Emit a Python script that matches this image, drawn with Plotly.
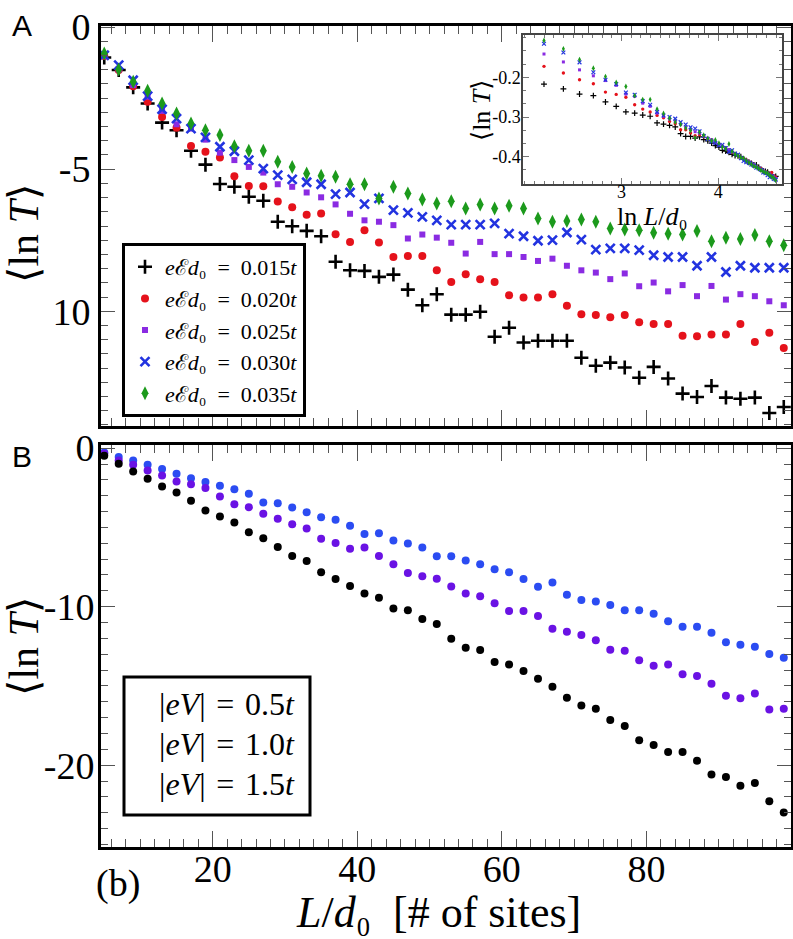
import math
import plotly.graph_objects as go

# ---------------- data ----------------
L_sites = list(range(5, 100, 2))  # 48 points

top_labels = ["0.015", "0.020", "0.025", "0.030", "0.035"]
top_black = [-1.07, -1.51, -2.12, -2.69, -3.36, -3.63, -4.35, -4.84, -5.52, -5.62, -5.97, -6.11,
             -6.85, -7.01, -7.17, -7.36, -8.26, -8.56, -8.58, -8.79, -8.71, -9.24, -9.79, -9.40,
             -10.12, -10.12, -10.02, -10.90, -10.58, -11.10, -11.04, -11.04, -11.04, -11.64, -11.92, -11.81,
             -11.98, -12.34, -11.96, -12.37, -12.90, -13.02, -12.63, -13.04, -13.08, -13.04, -13.58, -13.37]
top_red = [-1.02, -1.51, -2.08, -2.63, -3.16, -3.54, -4.18, -4.39, -4.59, -5.25, -5.59, -5.60,
           -6.14, -6.34, -6.60, -6.56, -7.29, -7.56, -7.15, -7.58, -8.09, -8.06, -8.06, -8.56,
           -8.97, -8.70, -8.87, -8.97, -9.44, -9.52, -9.52, -9.40, -9.81, -10.11, -10.13, -10.21,
           -10.13, -10.39, -10.45, -10.45, -10.86, -10.88, -10.82, -10.82, -10.45, -11.08, -10.76, -11.29]
top_purple = [-1.02, -1.49, -2.04, -2.45, -2.95, -3.42, -3.57, -3.96, -4.42, -4.68, -4.92, -5.12,
              -5.53, -5.62, -5.82, -5.99, -6.24, -6.57, -6.80, -6.85, -6.97, -7.44, -7.30, -7.41,
              -7.59, -7.97, -7.56, -7.99, -7.99, -8.09, -8.23, -8.15, -8.40, -8.56, -8.64, -8.87,
              -8.67, -9.12, -8.99, -9.30, -9.08, -9.47, -9.11, -9.59, -9.40, -9.47, -9.65, -9.79]
top_blue = [-0.99, -1.34, -1.87, -2.43, -2.89, -3.22, -3.57, -3.88, -4.21, -4.37, -4.68, -4.98,
            -5.21, -5.36, -5.46, -5.53, -5.88, -5.82, -6.23, -6.03, -6.44, -6.54, -6.68, -6.80,
            -6.95, -6.95, -6.95, -6.91, -7.27, -7.36, -7.52, -7.50, -7.23, -7.48, -7.83, -7.79,
            -7.79, -7.85, -8.03, -8.09, -8.09, -8.40, -8.09, -8.62, -8.40, -8.47, -8.47, -8.47]
top_green = [-0.93, -1.49, -1.92, -2.24, -2.69, -3.04, -3.39, -3.63, -3.80, -4.19, -4.35, -4.35,
             -4.74, -4.92, -5.15, -5.23, -5.27, -5.53, -5.53, -6.03, -5.62, -5.86, -6.07, -6.21,
             -6.13, -6.38, -6.24, -6.38, -6.29, -6.38, -6.74, -6.85, -6.82, -6.77, -6.85, -7.09,
             -7.12, -7.15, -7.24, -7.27, -7.30, -7.18, -7.54, -7.41, -7.46, -7.32, -7.54, -7.68]

# inset: ln(L/d0) for L = 9..99
inset_L = list(range(9, 100, 2))
inset_black = [-0.217, -0.229, -0.242, -0.246, -0.262, -0.273, -0.287, -0.290, -0.295, -0.298,
               -0.315, -0.318, -0.321, -0.325, -0.342, -0.349, -0.349, -0.353,
               -0.350, -0.357, -0.360, -0.366, -0.372, -0.376, -0.384, -0.386, -0.389, -0.394,
               -0.397, -0.398, -0.400, -0.406, -0.410, -0.414, -0.417, -0.421, -0.421, -0.428,
               -0.432, -0.436, -0.437, -0.439, -0.446, -0.448, -0.452, -0.450]
inset_red = [-0.172, -0.189, -0.206, -0.216, -0.237, -0.243, -0.250, -0.269, -0.280, -0.287,
             -0.296, -0.302, -0.311, -0.317, -0.332, -0.332, -0.340, -0.347,
             -0.345, -0.350, -0.356, -0.358, -0.364, -0.368, -0.373, -0.380, -0.386, -0.390,
             -0.392, -0.398, -0.403, -0.404, -0.408, -0.412, -0.418, -0.422, -0.426, -0.427,
             -0.430, -0.436, -0.438, -0.441, -0.445, -0.440, -0.448, -0.452]
inset_purple = [-0.141, -0.161, -0.181, -0.196, -0.208, -0.220, -0.242, -0.248, -0.265, -0.273,
                -0.290, -0.298, -0.305, -0.311, -0.319, -0.325, -0.332, -0.337,
                -0.341, -0.347, -0.353, -0.357, -0.363, -0.370, -0.374, -0.377, -0.382, -0.388,
                -0.392, -0.396, -0.401, -0.406, -0.409, -0.413, -0.416, -0.420, -0.425, -0.429,
                -0.432, -0.434, -0.439, -0.442, -0.444, -0.449, -0.451, -0.455]
inset_blue = [-0.115, -0.137, -0.162, -0.187, -0.206, -0.217, -0.238, -0.244, -0.260, -0.269,
              -0.287, -0.296, -0.300, -0.304, -0.313, -0.319, -0.326, -0.329,
              -0.336, -0.348, -0.356, -0.362, -0.366, -0.372, -0.370, -0.378, -0.388, -0.384,
              -0.392, -0.395, -0.404, -0.411, -0.414, -0.416, -0.420, -0.423, -0.428, -0.430,
              -0.433, -0.440, -0.442, -0.447, -0.452, -0.449, -0.456, -0.458]
inset_green = [-0.107, -0.128, -0.155, -0.177, -0.198, -0.213, -0.223, -0.246, -0.256, -0.256,
               -0.280, -0.291, -0.303, -0.313, -0.319, -0.328, -0.334, -0.352,
               -0.338, -0.346, -0.354, -0.360, -0.358, -0.366, -0.376, -0.380, -0.368, -0.387,
               -0.394, -0.398, -0.402, -0.404, -0.410, -0.415, -0.419, -0.424, -0.426, -0.430,
               -0.434, -0.437, -0.440, -0.442, -0.447, -0.451, -0.454, -0.460]

bottom_labels = ["0.5", "1.0", "1.5"]
bot_black = [-0.48, -0.99, -1.47, -1.93, -2.42, -2.80, -3.32, -3.93, -4.31, -4.69, -5.30, -5.68,
             -6.23, -6.80, -7.11, -7.83, -8.25, -8.69, -9.17, -9.43, -10.12, -10.23, -10.77, -11.09,
             -12.02, -12.59, -12.73, -13.49, -13.64, -14.06, -14.54, -15.05, -15.74, -16.23, -16.44, -17.15,
             -17.53, -18.42, -18.73, -19.17, -19.17, -19.72, -20.58, -20.75, -21.30, -21.13, -22.27, -22.98]
bot_purple = [-0.35, -0.77, -1.05, -1.41, -1.72, -2.10, -2.27, -2.52, -3.05, -3.53, -3.72, -4.14,
              -4.46, -4.80, -5.07, -5.72, -5.99, -6.35, -6.27, -6.80, -7.32, -7.87, -8.08, -8.23,
              -8.73, -9.17, -9.34, -9.79, -10.27, -10.27, -10.59, -11.39, -11.58, -11.79, -12.12, -12.71,
              -12.78, -13.38, -13.72, -13.64, -14.27, -14.37, -14.86, -15.62, -15.78, -15.47, -16.48, -16.44]
bot_blue = [-0.27, -0.56, -0.77, -1.05, -1.32, -1.62, -1.89, -2.14, -2.37, -2.59, -2.88, -3.43,
            -3.47, -3.74, -4.04, -4.35, -4.52, -4.90, -5.41, -5.36, -5.83, -6.02, -6.27, -6.82,
            -6.82, -7.09, -7.32, -7.64, -7.83, -8.25, -8.75, -8.48, -9.24, -9.58, -9.68, -9.89,
            -10.23, -10.23, -10.44, -10.92, -11.26, -11.26, -11.64, -12.25, -12.40, -12.52, -12.99, -13.22]

x_ticks = [20, 40, 60, 80]

# ---------------- figure ----------------
inset_x = [math.log(v) for v in inset_L]

SERIF = "Liberation Serif, DejaVu Serif, serif"
SP = "\u2002"
SP3 = "\u2004"
fig = go.Figure()

top_styles = [
    ("black", "cross-thin", 10, 2.6, top_black, inset_black),
    ("#e5121b", "circle", 8, 0, top_red, inset_red),
    ("#8a2be2", "square", 6, 0, top_purple, inset_purple),
    ("#2233e0", "x-thin", 9, 2.6, top_blue, inset_blue),
    ("#1c9a1c", "diamond-tall", 10, 0, top_green, inset_green),
]
for (col, sym, sz, lw, ys, iys), lab in zip(top_styles, top_labels):
    mk = dict(color=col, symbol=sym, size=sz)
    if lw:
        mk["line"] = dict(color=col, width=lw)
    fig.add_trace(go.Scatter(
        x=L_sites, y=ys, mode="markers", marker=mk, xaxis="x", yaxis="y",
        name=f"<i>e</i>ℰ<i>d</i>₀{SP}={SP}{lab}<i>t</i>", showlegend=True))
    imk = dict(color=col, symbol=sym, size=max(3, sz * 0.42))
    if lw:
        imk["line"] = dict(color=col, width=1.2)
    fig.add_trace(go.Scatter(
        x=inset_x, y=iys, mode="markers", marker=imk, xaxis="x3", yaxis="y3",
        showlegend=False))

for col, ys in [("#2b4cf2", bot_blue), ("#6a12e4", bot_purple), ("black", bot_black)]:
    fig.add_trace(go.Scatter(
        x=L_sites, y=ys, mode="markers", marker=dict(color=col, size=8),
        xaxis="x2", yaxis="y2", showlegend=False))

W, H = 793, 939
xdom = [101 / W, 791 / W]
top_dom = [1 - 426 / H, 1 - 26 / H]
bot_dom = [1 - 847 / H, 1 - 445 / H]

axis_common = dict(showline=True, linecolor="black", linewidth=3, mirror="allticks",
                   ticks="inside", tickcolor="#555", tickwidth=1, showgrid=False,
                   zeroline=False, automargin=False,
                   tickfont=dict(family=SERIF, size=38, color="black"))

fig.update_layout(
    width=W, height=H, margin=dict(l=0, r=0, t=0, b=0, autoexpand=False),
    paper_bgcolor="white", plot_bgcolor="white",
    xaxis=dict(domain=xdom, anchor="y", range=[4.55, 100], tickvals=x_ticks, ticklen=16,
               showticklabels=False,
               minor=dict(dtick=2, tick0=0, ticks="inside", ticklen=8, tickcolor="#555"),
               **axis_common),
    yaxis=dict(domain=top_dom, anchor="x", range=[-14.04, 0.04], tickvals=[0, -5, -10],
               ticktext=["0", "-5", "10"], ticklen=14, ticklabelstandoff=0,
               minor=dict(dtick=0.5, tick0=0, ticks="inside", ticklen=7, tickcolor="#555"),
               **axis_common),
    xaxis2=dict(domain=xdom, anchor="y2", range=[4.55, 100], tickvals=x_ticks,
                ticktext=[str(v) for v in x_ticks], ticklen=16, ticklabelstandoff=-14,
                minor=dict(dtick=2, tick0=0, ticks="inside", ticklen=8, tickcolor="#555"),
                **axis_common),
    yaxis2=dict(domain=bot_dom, anchor="x2", range=[-25.16, 0.2], tickvals=[0, -10, -20],
                ticktext=["0", "-10", "-20"], ticklen=14, ticklabelstandoff=-4,
                minor=dict(dtick=1, tick0=0, ticks="inside", ticklen=7, tickcolor="#555"),
                **axis_common),
    xaxis3=dict(domain=[523 / W, 782 / W], anchor="y3", range=[1.98, 4.66], tickvals=[3, 4],
                ticktext=["3", "4"], showline=True, linecolor="#444", linewidth=1.5,
                mirror="allticks", ticks="inside", ticklen=6, tickcolor="#777", showgrid=False,
                zeroline=False, automargin=False,
                tickfont=dict(family=SERIF, size=18, color="black"),
                ticklabelstandoff=-9,
                minor=dict(dtick=0.1, tick0=0, ticks="inside", ticklen=3, tickcolor="#777")),
    yaxis3=dict(domain=[1 - 184 / H, 1 - 35 / H], anchor="x3", range=[-0.469, -0.093],
                tickvals=[-0.2, -0.3, -0.4], ticktext=["-0.2", "-0.3", "-0.4"],
                showline=True, linecolor="#444", linewidth=1.5, mirror="allticks",
                ticks="inside", ticklen=6, tickcolor="#777", showgrid=False, zeroline=False,
                automargin=False,
                tickfont=dict(family=SERIF, size=18, color="black"), ticklabelstandoff=-3,
                minor=dict(dtick=0.1 / 3, tick0=-0.2, ticks="inside", ticklen=3, tickcolor="#777")),
    legend=dict(x=122 / W, y=1 - 243 / H, xanchor="left", yanchor="top",
                bgcolor="white", bordercolor="black", borderwidth=3,
                font=dict(family=SERIF, size=22, color="black"),
                itemsizing="trace", tracegroupgap=0),
    showlegend=True,
)

ann = []
def A(x, y, text, size, **kw):
    d = dict(x=x / W, y=1 - y / H, xref="paper", yref="paper", text=text, showarrow=False,
             xanchor="center", yanchor="middle",
             font=dict(family=kw.pop("family", SERIF), size=size, color="black"))
    d.update(kw)
    ann.append(d)

A(22, 26, "A", 30, family="Liberation Sans, Arial, sans-serif")
A(22, 456, "B", 30, family="Liberation Sans, Arial, sans-serif")
A(24, 234, "⟨ln <i>T</i>⟩", 42, textangle=-90)
A(24, 647, "⟨ln <i>T</i>⟩", 42, textangle=-90)
A(438, 912, f"<i>L</i>/<i>d</i>₀{SP}[# of sites]", 44)
A(118, 883, "(b)", 38)
A(652, 216, "ln <i>L</i>/<i>d</i>₀", 26)
A(481, 110, "⟨ln <i>T</i>⟩", 26, textangle=-90)
for k, lab in enumerate(bottom_labels):
    A(297, 704 + 40 * k, f"|<i>eV</i>|{SP3}={SP3}{lab}<i>t</i>", 32, xanchor="right")
fig.update_layout(annotations=ann)

fig.add_shape(type="rect", xref="paper", yref="paper",
              x0=124 / W, x1=310 / W, y0=1 - 815 / H, y1=1 - 677 / H,
              line=dict(color="black", width=3), fillcolor="rgba(0,0,0,0)")

fig.write_html("out.html", config={"displayModeBar": False},
               post_script="document.body.style.margin='0';")
